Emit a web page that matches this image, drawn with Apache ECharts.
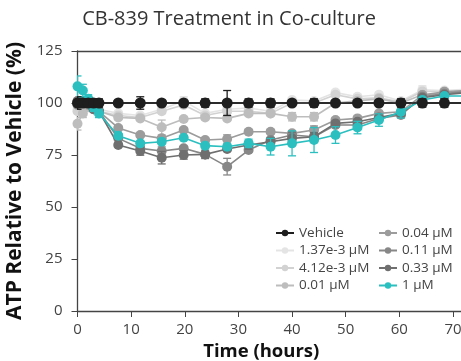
<!DOCTYPE html>
<html>
<head>
<meta charset="utf-8">
<script src="https://cdn.jsdelivr.net/npm/echarts@6/dist/echarts.min.js"></script>
<style>
  html, body { margin: 0; padding: 0; background: #fff; }
  #chart { width: 461px; height: 361px; }
</style>
</head>
<body>
<div id="chart"></div>
<script>
var times = [0, 1, 2, 3, 4, 7.6, 11.7, 15.7, 19.8, 23.8, 27.9, 31.9, 36, 40, 44.1, 48.1, 52.2, 56.2, 60.3, 64.3, 68.4, 72.5];

var names = ['Vehicle', '1.37e-3 µM', '4.12e-3 µM', '0.01 µM', '0.04 µM', '0.11 µM', '0.33 µM', '1 µM'];
var colors = ['#1e1e1e', '#e4e4e4', '#d2d2d2', '#bdbdbd', '#9c9c9c', '#878787', '#6f6f6f', '#2bbfc0'];

var vehicle   = [100, 100, 100, 100, 100, 100, 100, 100, 100, 100, 100, 100, 100, 100, 100, 100, 100, 100, 100, 100, 100, 100];
var dose137e3 = [97, 99, 100, 98, 97, 95, 94, 97, 101, 95, 97, 97.6, 96, 101.4, 101, 105, 103, 104, 101, 106.3, 106, 106.6];
var dose412e3 = [96, 98, 99, 97, 96, 94, 93, 96, 99, 94, 96, 96, 95, 100, 100, 104, 102, 102.5, 100.5, 105.5, 105.5, 105.8];
var dose001   = [90, 95, 98, 97, 96, 93, 92.6, 88.3, 92.3, 93, 92.6, 95, 95, 93.4, 93.4, 100, 101, 102, 100, 104, 104.7, 105];
var dose004   = [99, 100, 99, 97, 96, 88, 84.6, 83, 87, 82.2, 82.7, 86.2, 86.2, 85.4, 87, 91.8, 92.6, 95, 95.8, 103.8, 105.4, 106];
var dose011   = [100, 101, 100, 98, 96, 83, 78.2, 76.9, 78.2, 75.3, 69.4, 77.4, 82.2, 84.6, 83.8, 89.4, 89.4, 92.6, 94.2, 103, 104.5, 105.5];
var dose033   = [101, 101, 100, 97, 96, 79.8, 76.9, 73.7, 75, 75.3, 77.9, 79.8, 81.4, 83, 83.8, 90.2, 91, 93, 95, 102.5, 104, 105];
var dose1     = [108, 106, 102, 98, 95, 84.3, 80.6, 81.4, 83.3, 79.5, 79, 80.6, 79, 80.6, 82.2, 84.6, 88.2, 91.8, 95.8, 101.4, 103.4, 103.4];

// +/- error for each point
var errVehicle = [3, 2, 2, 2, 2, 1, 3, 1, 1, 2, 6, 2, 2, 1, 2, 1, 1, 1, 2, 2, 2, 0];
var err137e3   = [2, 1, 1, 1, 1, 1, 1, 1, 2, 1, 1, 1, 1, 1, 1, 1, 1, 1, 1, 2, 1, 0];
var err412e3   = [2, 1, 1, 1, 1, 1, 1, 1, 1, 1, 1, 1, 1, 1, 1, 1, 1, 1, 1, 1, 1, 0];
var err001     = [3, 2, 1, 1, 1, 1, 1, 3.5, 1, 1, 1, 1, 1, 2, 2, 1, 1, 1, 1, 1, 1, 0];
var err004     = [2, 1, 1, 1, 1, 1, 1, 1, 1, 1, 2, 1, 1, 1, 2, 1, 1, 1, 1, 1, 1, 0];
var err011     = [2, 1, 1, 1, 1, 1, 1, 2, 1, 1, 4, 1, 1, 1, 1, 1, 1, 1, 1, 1, 1, 0];
var err033     = [2, 1, 1, 1, 1, 1, 2, 3, 2, 2, 1, 2, 2, 3, 2, 1, 1, 1, 1, 1, 1, 0];
var err1       = [5, 3, 2, 2, 2, 1, 1, 1, 1, 1, 1, 2, 4, 6, 6, 4, 3, 3, 3, 1, 1, 0];

var values = [vehicle, dose137e3, dose412e3, dose001, dose004, dose011, dose033, dose1];
var errors = [errVehicle, err137e3, err412e3, err001, err004, err011, err033, err1];

var font = '"Open Sans", Lato, sans-serif';

function errorBar(color) {
    return function (params, api) {
        var lo = api.coord([api.value(0), api.value(1)]);
        var hi = api.coord([api.value(0), api.value(2)]);
        var cap = 4;
        var st = { stroke: color, lineWidth: 1.3 };
        return {
            type: 'group',
            children: [
                { type: 'line', shape: { x1: lo[0], y1: lo[1], x2: hi[0], y2: hi[1] }, style: st },
                { type: 'line', shape: { x1: lo[0] - cap, y1: lo[1], x2: lo[0] + cap, y2: lo[1] }, style: st },
                { type: 'line', shape: { x1: hi[0] - cap, y1: hi[1], x2: hi[0] + cap, y2: hi[1] }, style: st }
            ]
        };
    };
}

var series = [];
// draw order: lightest first, teal then vehicle on top
var order = [1, 2, 3, 4, 5, 6, 7, 0];
order.forEach(function (k, idx) {
    var v = values[k], e = errors[k];
    var bars = [];
    var pts = [];
    for (var i = 0; i < times.length; i++) {
        pts.push([times[i], v[i]]);
        if (e[i] > 0) bars.push([times[i], v[i] - e[i], v[i] + e[i]]);
    }
    series.push({
        name: names[k] + ' err',
        type: 'custom',
        renderItem: errorBar(colors[k]),
        data: bars,
        z: 2 + idx * 2,
        clip: true,
        silent: true
    });
    var s = {
        name: names[k],
        type: 'line',
        data: pts,
        color: colors[k],
        symbol: 'circle',
        symbolSize: k === 0 ? 11 : 10,
        lineStyle: { width: 1.6, color: colors[k] },
        itemStyle: { color: colors[k] },
        z: 3 + idx * 2,
        clip: true,
        animation: false
    };
    if (k === 0) {
        s.markLine = {
            silent: true,
            symbol: 'none',
            label: { show: false },
            lineStyle: { color: '#1e1e1e', width: 1.6, type: 'solid' },
            data: [{ yAxis: 100 }]
        };
    }
    series.push(s);
});

var legendText = { fontFamily: font, fontSize: 13.5, color: '#444', lineHeight: 14 };

var chart = echarts.init(document.getElementById('chart'));
chart.setOption({
    animation: false,
    title: {
        text: 'CB-839 Treatment in Co-culture',
        left: 224,
        textAlign: 'center',
        top: 4,
        textStyle: { fontFamily: font, fontSize: 20, fontWeight: 'normal', color: '#333' }
    },
    grid: { left: 77.5, right: 0, top: 51, bottom: 50, outerBoundsMode: 'none', containLabel: false },
    legend: [
        {
            data: names.slice(0, 4),
            orient: 'vertical',
            left: 270,
            top: 221,
            itemWidth: 18,
            itemHeight: 8,
            itemGap: 3.5,
            textStyle: legendText
        },
        {
            data: names.slice(4),
            orient: 'vertical',
            left: 373,
            top: 221,
            itemWidth: 18,
            itemHeight: 8,
            itemGap: 3.5,
            textStyle: legendText
        }
    ],
    xAxis: [
        {
            type: 'value',
            min: 0,
            max: 71.5,
            interval: 10,
            name: 'Time (hours)',
            nameLocation: 'middle',
            nameGap: 26,
            nameTextStyle: { fontFamily: font, fontSize: 18.5, fontWeight: 'bold', color: '#111', padding: [0, 16, 0, 0] },
            axisLine: { lineStyle: { color: '#444', width: 1.3 } },
            axisTick: { show: true, length: 6, inside: false, lineStyle: { color: '#444' } },
            axisLabel: { fontFamily: font, fontSize: 15, color: '#444', margin: 11, showMaxLabel: false },
            splitLine: { show: false }
        },
        {
            type: 'value',
            position: 'top',
            min: 0,
            max: 71.5,
            axisLine: { show: true, lineStyle: { color: '#444', width: 1.3 } },
            axisTick: { show: false },
            axisLabel: { show: false },
            splitLine: { show: false }
        }
    ],
    yAxis: {
        type: 'value',
        min: 0,
        max: 125,
        interval: 25,
        name: 'ATP Relative to Vehicle (%)',
        nameLocation: 'middle',
        nameGap: 39,
        nameTextStyle: { fontFamily: font, fontSize: 21, fontWeight: 'bold', color: '#111' },
        axisLine: { show: true, lineStyle: { color: '#444', width: 1.3 } },
        axisTick: { show: true, length: 6, lineStyle: { color: '#444' } },
        axisLabel: { fontFamily: font, fontSize: 15, color: '#444', margin: 15 },
        splitLine: { show: false }
    },
    series: series
});
</script>
</body>
</html>
